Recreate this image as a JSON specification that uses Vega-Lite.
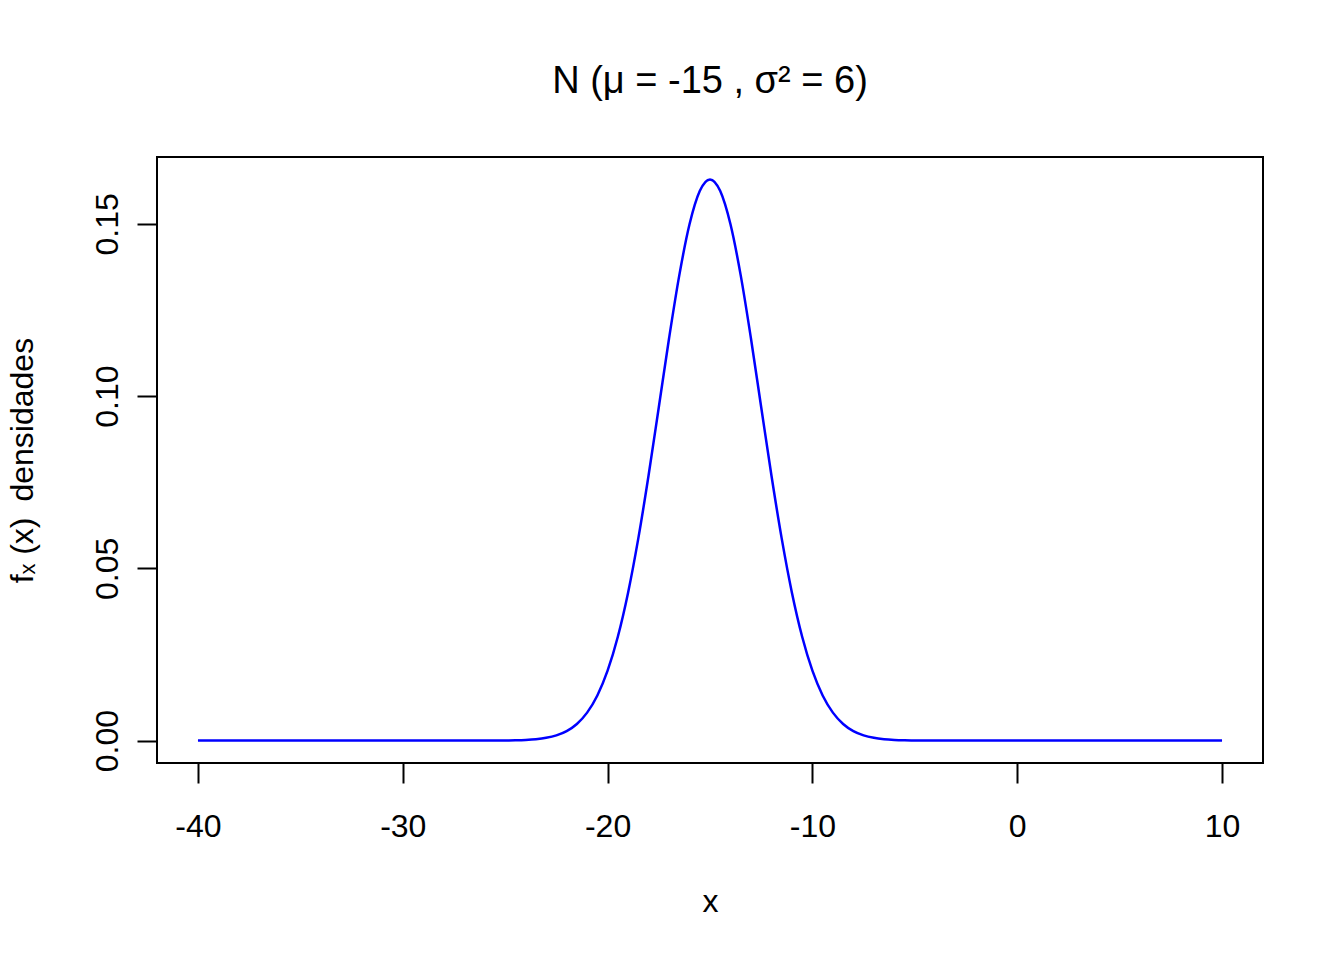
{
  "$schema": "https://vega.github.io/schema/vega-lite/v6.json",
  "width": 1106,
  "height": 606,
  "autosize": {"type": "none"},
  "padding": {"left": 157, "top": 157, "right": 81, "bottom": 197},
  "background": "white",
  "config": {
    "font": "Liberation Sans",
    "view": {"stroke": "black", "strokeWidth": 2},
    "axis": {"grid": false, "domain": false, "tickColor": "black", "tickWidth": 2, "tickSize": 20,
             "labelFont": "Liberation Sans", "labelFontSize": 32, "labelColor": "black",
             "titleFont": "Liberation Sans", "titleFontSize": 32, "titleFontWeight": "normal", "titleColor": "black"}
  },
  "title": {"text": "N (μ = -15 , σ² = 6)", "fontSize": 38, "fontWeight": "normal", "font": "Liberation Sans", "color": "black", "anchor": "middle", "offset": 56},
  "data": {"values": [
    {"x": -40, "y": 0}, {"x": -30, "y": 0}, {"x": -27, "y": 0.000001}, {"x": -26, "y": 0.000007},
    {"x": -25, "y": 0.000039}, {"x": -24.5, "y": 0.000088}, {"x": -24, "y": 0.000191}, {"x": -23.5, "y": 0.000395},
    {"x": -23, "y": 0.000786}, {"x": -22.5, "y": 0.0015}, {"x": -22, "y": 0.00274}, {"x": -21.5, "y": 0.00482},
    {"x": -21, "y": 0.00811}, {"x": -20.5, "y": 0.01309}, {"x": -20, "y": 0.02028}, {"x": -19.5, "y": 0.03013},
    {"x": -19, "y": 0.04293}, {"x": -18.5, "y": 0.05868}, {"x": -18, "y": 0.07693}, {"x": -17.5, "y": 0.09675},
    {"x": -17, "y": 0.1167}, {"x": -16.5, "y": 0.13502}, {"x": -16, "y": 0.14985}, {"x": -15.5, "y": 0.15951},
    {"x": -15, "y": 0.16287},
    {"x": -14.5, "y": 0.15951}, {"x": -14, "y": 0.14985}, {"x": -13.5, "y": 0.13502}, {"x": -13, "y": 0.1167},
    {"x": -12.5, "y": 0.09675}, {"x": -12, "y": 0.07693}, {"x": -11.5, "y": 0.05868}, {"x": -11, "y": 0.04293},
    {"x": -10.5, "y": 0.03013}, {"x": -10, "y": 0.02028}, {"x": -9.5, "y": 0.01309}, {"x": -9, "y": 0.00811},
    {"x": -8.5, "y": 0.00482}, {"x": -8, "y": 0.00274}, {"x": -7.5, "y": 0.0015}, {"x": -7, "y": 0.000786},
    {"x": -6.5, "y": 0.000395}, {"x": -6, "y": 0.000191}, {"x": -5.5, "y": 0.000088}, {"x": -5, "y": 0.000039},
    {"x": -4, "y": 0.000007}, {"x": -3, "y": 0.000001}, {"x": 0, "y": 0}, {"x": 10, "y": 0}
  ]},
  "mark": {"type": "line", "color": "#0000FF", "strokeWidth": 2.5, "interpolate": "monotone", "clip": true},
  "encoding": {
    "x": {"field": "x", "type": "quantitative",
          "scale": {"domain": [-42, 12], "nice": false, "zero": false},
          "axis": {"values": [-40, -30, -20, -10, 0, 10], "labelExpr": "'' + datum.value", "title": "x", "labelPadding": 28, "titlePadding": 44, "labelFlush": false}},
    "y": {"field": "y", "type": "quantitative",
          "scale": {"domain": [-0.006515, 0.169385], "nice": false, "zero": false},
          "axis": {"values": [0, 0.05, 0.1, 0.15], "format": ".2f", "title": "f\u2093 (x)\u2002densidades",
                   "labelAngle": -90, "labelAlign": "center", "labelBaseline": "alphabetic", "labelPadding": 20, "titlePadding": 52, "labelFlush": false}}
  }
}
